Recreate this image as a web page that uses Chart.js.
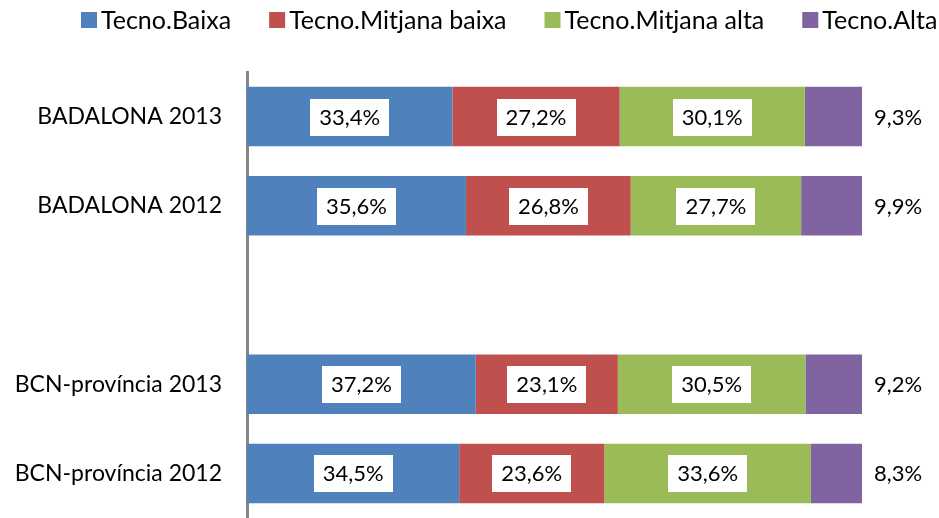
<!DOCTYPE html>
<html>
<head>
<meta charset="utf-8">
<script src="https://cdn.jsdelivr.net/npm/chart.js@4"></script>
<style>
  html, body { margin: 0; padding: 0; background: #fff; }
</style>
</head>
<body>
<canvas id="chart" width="939" height="518"></canvas>
<script>
// chart data
const categories = ['BADALONA 2013', 'BADALONA 2012', '', 'BCN-província 2013', 'BCN-província 2012'];
const seriesNames = ['Tecno.Baixa', 'Tecno.Mitjana baixa', 'Tecno.Mitjana alta', 'Tecno.Alta'];
const baixa = [33.4, 35.6, null, 37.2, 34.5];
const mitjanaBaixa = [27.2, 26.8, null, 23.1, 23.6];
const mitjanaAlta = [30.1, 27.7, null, 30.5, 33.6];
const alta = [9.3, 9.9, null, 9.2, 8.3];

const colors = ['#4F81BD', '#C0504D', '#9BBB59', '#8064A2'];

// labels in white boxes inside the bars, last series outside on the right
const valueLabels = {
    id: 'valueLabels',
    afterDatasetsDraw(chart) {
        const ctx = chart.ctx;
        const last = chart.data.datasets.length - 1;
        ctx.save();
        ctx.font = '22px Lato';
        ctx.textBaseline = 'middle';
        ctx.textAlign = 'center';
        chart.data.datasets.forEach((ds, i) => {
            const meta = chart.getDatasetMeta(i);
            meta.data.forEach((bar, j) => {
                const v = ds.data[j];
                if (v == null) return;
                const txt = v.toFixed(1).replace('.', ',') + '%';
                const w = ctx.measureText(txt).width;
                if (i < last) {
                    const cx = (bar.x + bar.base) / 2;
                    ctx.fillStyle = '#fff';
                    ctx.fillRect(Math.round(cx - w / 2 - 9), Math.round(bar.y - 18), Math.round(w + 18), 37);
                    ctx.fillStyle = '#000';
                    ctx.fillText(txt, cx, bar.y + 1);
                } else {
                    ctx.fillStyle = '#000';
                    ctx.fillText(txt, bar.x + 36, bar.y + 1);
                }
            });
        });
        ctx.restore();
    }
};

// legend row at the top, laid out like the original
const topLegend = {
    id: 'topLegend',
    afterDraw(chart) {
        const ctx = chart.ctx;
        ctx.save();
        ctx.font = '25px Lato';
        ctx.textBaseline = 'middle';
        ctx.textAlign = 'left';
        let x = 81;
        const y = 20;
        chart.data.datasets.forEach(ds => {
            ctx.fillStyle = ds.backgroundColor;
            ctx.fillRect(x, y - 8, 16, 16);
            ctx.fillStyle = '#000';
            ctx.fillText(ds.label, x + 20, y + 1);
            x += 20 + ctx.measureText(ds.label).width + 38;
        });
        ctx.restore();
    }
};

const values = [baixa, mitjanaBaixa, mitjanaAlta, alta];

new Chart(document.getElementById('chart'), {
    type: 'bar',
    data: {
        labels: categories,
        datasets: seriesNames.map((name, i) => ({
            label: name,
            data: values[i],
            backgroundColor: colors[i],
            borderWidth: 0,
            barPercentage: 0.667,
            categoryPercentage: 1
        }))
    },
    options: {
        indexAxis: 'y',
        responsive: false,
        animation: false,
        layout: { padding: { top: 72, right: 77, bottom: -4, left: 0 } },
        plugins: {
            legend: { display: false },
            tooltip: { enabled: false }
        },
        scales: {
            x: {
                stacked: true,
                min: 0,
                max: 100,
                display: false
            },
            y: {
                stacked: true,
                grid: { display: false, drawTicks: true, tickLength: 22 },
                border: { display: true, color: '#868686', width: 3 },
                ticks: {
                    color: '#000',
                    font: { family: 'Lato', size: 23 },
                    padding: 3
                },
                afterFit: scale => {
                    scale.width = 247;
                    scale.paddingTop = 0;
                    scale.paddingBottom = 0;
                }
            }
        }
    },
    plugins: [valueLabels, topLegend]
});
</script>
</body>
</html>
